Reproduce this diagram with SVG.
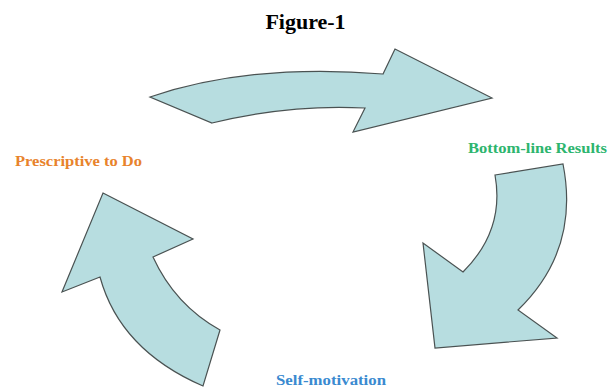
<svg xmlns="http://www.w3.org/2000/svg" width="608" height="388" viewBox="0 0 608 388">
<style>
.arrow{fill:#B7DDE0;stroke:#4a5252;stroke-width:1.2;stroke-linejoin:miter}
.lbl{font-family:"Liberation Serif","Times New Roman",serif;font-weight:bold;font-size:14px}
.title{font-family:"Liberation Serif","Times New Roman",serif;font-weight:bold;font-size:22px;fill:#000}
</style>
<rect width="608" height="388" fill="#fff"/>
<text class="title" x="305.5" y="29" text-anchor="middle">Figure-1</text>
<g id="connectors">
<g id="arrow-top"><path class="arrow" d="M150,97 Q250,63 383,74 L395,49 L492,98 L353,132 L365,108 Q290,104 212,123 Z"/></g>
<g id="arrow-right"><path class="arrow" d="M495,175 L563,164 Q580,250 518,310 L557,338 L435,348 L423,243 L463,272 Q505,230 495,175 Z"/></g>
<g id="arrow-left"><path class="arrow" d="M103,193 L193,239 L153,257 Q175,305 220,330 L203,386 Q120,350 100,277 L62,292 Z"/></g>
</g>
<g id="node-prescriptive"><text class="lbl" x="15" y="166" fill="#E8832C" textLength="127" lengthAdjust="spacingAndGlyphs">Prescriptive to Do</text></g>
<g id="node-bottomline"><text class="lbl" x="468" y="153" fill="#2DB56E" textLength="139" lengthAdjust="spacingAndGlyphs">Bottom-line Results</text></g>
<g id="node-selfmotivation"><text class="lbl" x="276" y="385" fill="#3A8AD0" textLength="110" lengthAdjust="spacingAndGlyphs">Self-motivation</text></g>
</svg>
